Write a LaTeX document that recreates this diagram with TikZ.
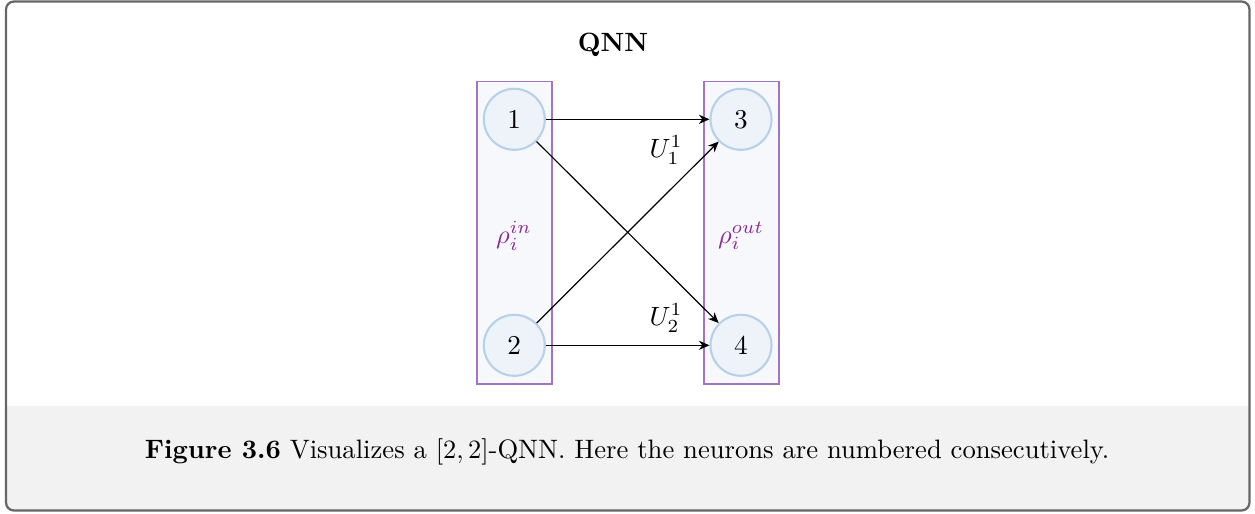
\documentclass[tikz,border=0pt]{standalone}
\usetikzlibrary{arrows.meta}
\definecolor{framegray}{HTML}{666666}
\definecolor{capgray}{HTML}{F2F2F2}
\definecolor{layerfill}{HTML}{F6F8FB}
\definecolor{layerdraw}{HTML}{A373C4}
\definecolor{neurfill}{HTML}{EEF3F9}
\definecolor{neurdraw}{HTML}{B8D0E8}
\definecolor{rhocol}{HTML}{8E2A91}
\newcommand{\myfs}{\fontsize{10.3pt}{12.4pt}\selectfont}
\begin{document}
\begin{tikzpicture}[x=0.3785pt,y=-0.3785pt,
  layer/.style={draw=layerdraw,fill=layerfill,line width=0.5pt},
  neuron/.style={circle,draw=neurdraw,fill=neurfill,line width=0.8pt,minimum size=61*0.3785pt,inner sep=0pt,font=\myfs},
  conn/.style={-{Stealth[length=4pt,width=3.5pt]},line width=0.45pt},
  rholab/.style={text=rhocol,font=\myfs},
  wlab/.style={font=\myfs}]
\useasboundingbox (0,0) rectangle (1255,514);
% frame
\begin{scope}
\clip[rounded corners=8*0.3785pt] (5,1) rectangle (1250,511);
\fill[capgray] (5,406) rectangle (1250,511);
\end{scope}
\draw[framegray,line width=0.85pt,rounded corners=8*0.3785pt] (6,1.5) rectangle (1249.5,510.5);
% title
\node[font=\bfseries\fontsize{10pt}{12pt}\selectfont] (title) at (613,45) {QNN};
% layers
\draw[layer] (477,81.5) rectangle (552,384);
\draw[layer] (704,81.5) rectangle (779,384);
\node[rholab] (rin) at (514,236) {$\rho_i^{in}$};
\node[rholab] (rout) at (741,236) {$\rho_i^{out}$};
% neurons
\node[neuron] (n1) at (514.3,119.3) {1};
\node[neuron] (n2) at (514.3,345.3) {2};
\node[neuron] (n3) at (741,119.3) {3};
\node[neuron] (n4) at (741,345.3) {4};
% connections
\draw[conn] (n1) -- (n3);
\draw[conn] (n1) -- (n4);
\draw[conn] (n2) -- (n3);
\draw[conn] (n2) -- (n4);
\node[wlab] (u1) at (666,150) {$U_1^1$};
\node[wlab] (u2) at (666,318) {$U_2^1$};
% caption
\node[font=\fontsize{10.08pt}{12pt}\selectfont] (cap) at (627,452) {\textbf{Figure 3.6} Visualizes a $[2,2]$-QNN. Here the neurons are numbered consecutively.};
\end{tikzpicture}
\end{document}
